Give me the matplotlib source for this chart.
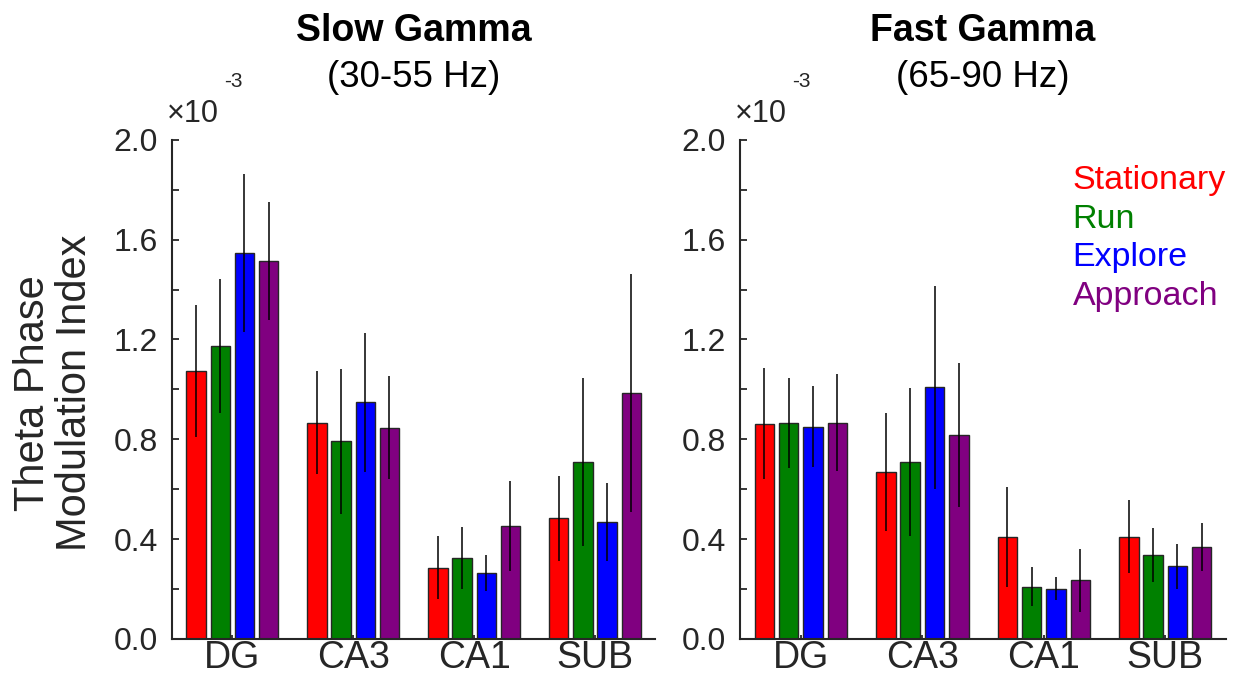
import matplotlib
matplotlib.use("Agg")
import matplotlib.pyplot as plt
import numpy as np
from matplotlib.ticker import MultipleLocator, FormatStrFormatter

#===============================================================================
regions = ["DG", "CA3", "CA1", "SUB"]
states = ["Stationary", "Run", "Explore", "Approach"]
state_colors = ["#ff0000", "#008000", "#0000ff", "#800080"]

# theta phase modulation index, units of 1e-3, rows = states, cols = regions
slow_mean = [
    [1.075, 0.867, 0.286, 0.483],
    [1.173, 0.792, 0.324, 0.709],
    [1.547, 0.948, 0.265, 0.468],
    [1.514, 0.847, 0.454, 0.985],
]
slow_err = [
    [0.265, 0.207, 0.126, 0.170],
    [0.268, 0.290, 0.124, 0.335],
    [0.318, 0.280, 0.072, 0.157],
    [0.237, 0.205, 0.180, 0.478],
]
fast_mean = [
    [0.862, 0.670, 0.410, 0.410],
    [0.865, 0.709, 0.209, 0.338],
    [0.850, 1.009, 0.202, 0.291],
    [0.867, 0.817, 0.235, 0.369],
]
fast_err = [
    [0.223, 0.236, 0.200, 0.145],
    [0.180, 0.295, 0.078, 0.108],
    [0.162, 0.407, 0.045, 0.090],
    [0.195, 0.290, 0.127, 0.095],
]

titles = ["Slow Gamma", "Fast Gamma"]
subtitles = ["(30-55 Hz)", "(65-90 Hz)"]

#===============================================================================
plt.rcParams["font.family"] = ["Liberation Sans", "DejaVu Sans"]
axis_color = "#262626"

fig = plt.figure(figsize=(12.46, 6.79), dpi=100)
ax_left = fig.add_axes([0.138, 0.059, 0.388, 0.735])
ax_right = fig.add_axes([0.594, 0.059, 0.390, 0.735])

def draw_panel(ax, means, errs, title, subtitle):
    x = np.arange(1, len(regions) + 1)
    width = 0.16
    offsets = [-0.3, -0.1, 0.1, 0.3]
    for i in range(len(states)):
        ax.bar(x + offsets[i], means[i], width, color=state_colors[i],
               edgecolor=axis_color, linewidth=1.0, zorder=2)
        ax.errorbar(x + offsets[i], means[i], yerr=errs[i], fmt="none",
                    ecolor="black", elinewidth=1.1, capsize=0, zorder=3)

    ax.set_xlim(0.5, 4.5)
    ax.set_ylim(0, 2.0)
    ax.set_xticks(x)
    ax.set_xticklabels(regions)
    ax.yaxis.set_major_locator(MultipleLocator(0.4))
    ax.yaxis.set_minor_locator(MultipleLocator(0.2))
    ax.yaxis.set_major_formatter(FormatStrFormatter("%.1f"))

    for side in ["top", "right"]:
        ax.spines[side].set_visible(False)
    for side in ["left", "bottom"]:
        ax.spines[side].set_color(axis_color)
        ax.spines[side].set_linewidth(1.5)

    ax.tick_params(axis="both", which="both", direction="in", colors=axis_color,
                   width=1.3)
    ax.tick_params(axis="y", which="both", length=5, pad=10, labelsize=23)
    ax.tick_params(axis="x", length=3, pad=1, labelsize=27)

    ax.text(0.5, 1.199, title, transform=ax.transAxes, ha="center",
            va="baseline", fontsize=27, fontweight="bold", color="black")
    ax.text(0.5, 1.106, subtitle, transform=ax.transAxes, ha="center",
            va="baseline", fontsize=26.5, color="black")

    ax.text(-0.011, 1.036, "\u00d710", transform=ax.transAxes, ha="left",
            va="baseline", fontsize=22, color=axis_color)
    ax.text(0.107, 1.106, "-3", transform=ax.transAxes, ha="left",
            va="baseline", fontsize=15, color=axis_color)

draw_panel(ax_left, slow_mean, slow_err, titles[0], subtitles[0])
draw_panel(ax_right, fast_mean, fast_err, titles[1], subtitles[1])

fig.text(54 / 1246, 1 - 393 / 679, "Theta Phase\nModulation Index", rotation=90,
         ha="center", va="center", fontsize=30, color=axis_color,
         linespacing=1.05)

# legend as coloured text
for i in range(len(states)):
    ax_right.text(0.684, 0.902 - i * 0.0776, states[i], transform=ax_right.transAxes,
                  ha="left", va="baseline", fontsize=24.5, color=state_colors[i])

fig.savefig("out.png", dpi=100)
